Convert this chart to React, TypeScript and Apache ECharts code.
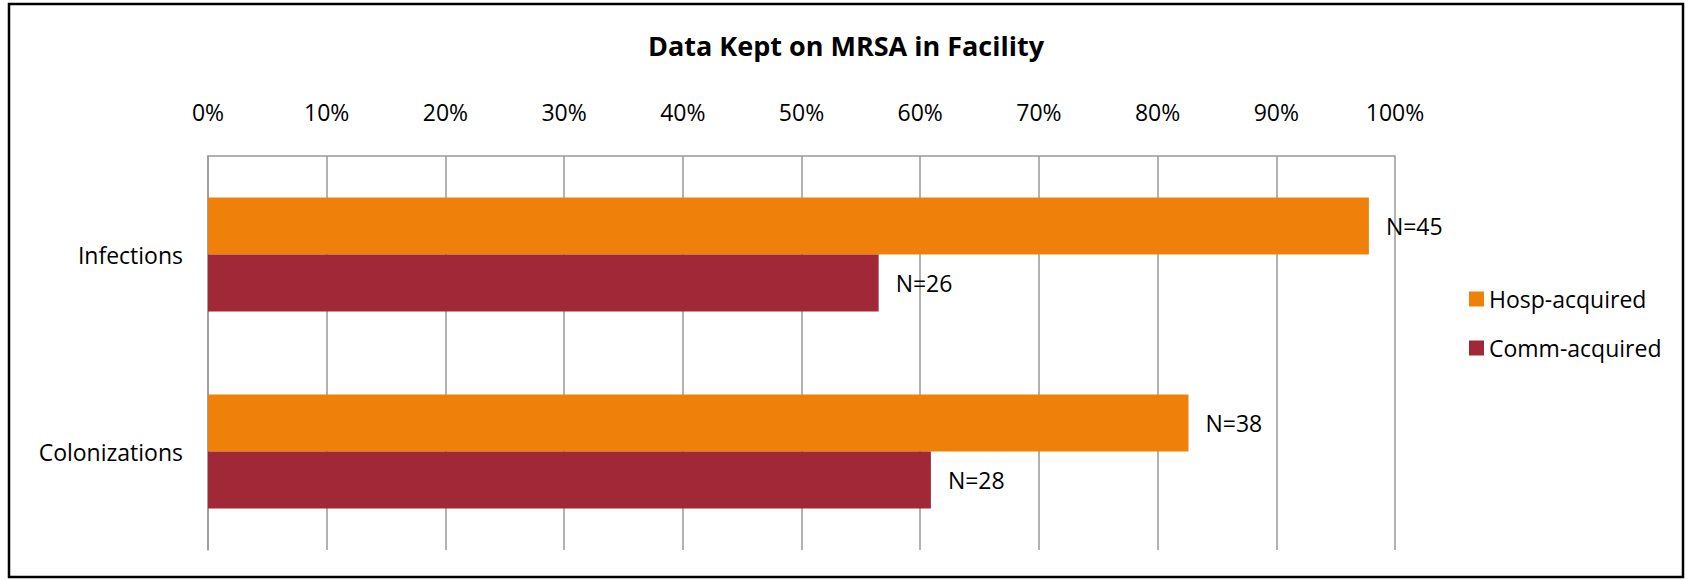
import React, { useEffect, useRef } from "react";
import * as echarts from "echarts";

const categories = ["Infections", "Colonizations"];
const seriesNames = ["Hosp-acquired", "Comm-acquired"];
const hospPct = [97.8, 82.6];
const commPct = [56.5, 60.9];
const hospN = [45, 38];
const commN = [26, 28];
const tickValues = [0, 10, 20, 30, 40, 50, 60, 70, 80, 90, 100];

const FONT = "Open Sans";
const FS = 23;

export default function App() {
  const ref = useRef<HTMLDivElement>(null);
  useEffect(() => {
    document.body.style.margin = "0";
    if (!ref.current) return;
    const chart = echarts.init(ref.current, null, { renderer: "svg" });
    const labelFor = (ns: number[]) => (p: any) => "N=" + ns[p.dataIndex];
    chart.setOption({
      animation: false,
      backgroundColor: "#fff",
      title: {
        text: "Data Kept on MRSA in Facility",
        left: "center",
        top: 27,
        textStyle: { fontFamily: FONT, fontWeight: "bold", fontSize: 27, color: "#000" },
      },
      graphic: [
        {
          type: "rect",
          shape: { x: 9, y: 4, width: 1674, height: 573 },
          style: { fill: "none", stroke: "#000", lineWidth: 2.5 },
          silent: true,
        },
      ],
      legend: {
        orient: "vertical",
        left: 1464,
        top: 282,
        itemWidth: 15,
        itemHeight: 15,
        itemGap: 25,
        icon: "rect",
        data: seriesNames,
        textStyle: { fontFamily: FONT, fontSize: FS, color: "#000", lineHeight: 24 },
      },
      grid: { left: 208, right: 297, top: 156, bottom: 30, containLabel: false },
      xAxis: {
        type: "value",
        position: "top",
        min: tickValues[0],
        max: tickValues[tickValues.length - 1],
        interval: 10,
        axisLine: { show: true, lineStyle: { color: "#999", width: 1.5 } },
        axisTick: { show: false },
        axisLabel: {
          formatter: "{value}%",
          fontFamily: FONT,
          fontSize: FS,
          color: "#000",
          margin: 33,
        },
        splitLine: { show: true, lineStyle: { color: "#999", width: 1.5 } },
      },
      yAxis: {
        type: "category",
        inverse: true,
        data: categories,
        axisLine: { show: true, lineStyle: { color: "#999", width: 1.5 } },
        axisTick: { show: false },
        axisLabel: { fontFamily: FONT, fontSize: FS, color: "#000", margin: 25 },
      },
      series: [
        {
          name: seriesNames[0],
          type: "bar",
          data: hospPct,
          barWidth: 57,
          barGap: "0%",
          itemStyle: { color: "#EF810B" },
          label: {
            show: true,
            position: "right",
            distance: 17,
            formatter: labelFor(hospN),
            fontFamily: FONT,
            fontSize: FS,
            color: "#000",
          },
        },
        {
          name: seriesNames[1],
          type: "bar",
          data: commPct,
          barWidth: 57,
          barGap: "0%",
          itemStyle: { color: "#A12837" },
          label: {
            show: true,
            position: "right",
            distance: 17,
            formatter: labelFor(commN),
            fontFamily: FONT,
            fontSize: FS,
            color: "#000",
          },
        },
      ],
    });
    return () => chart.dispose();
  }, []);
  return <div ref={ref} style={{ width: 1692, height: 580 }} />;
}
